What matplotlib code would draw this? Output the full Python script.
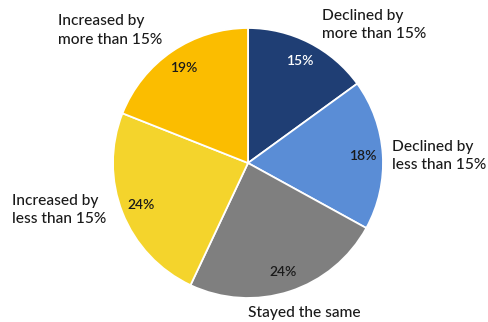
import matplotlib
matplotlib.use("Agg")
import matplotlib.pyplot as plt

# slices go clockwise from 12 o'clock
categories = ["Declined by\nmore than 15%", "Declined by\nless than 15%", "Stayed the same",
              "Increased by\nless than 15%", "Increased by\nmore than 15%"]
shares = [15, 18, 24, 24, 19]
colors = ["#1f3e74", "#5a8dd6", "#7f7f7f", "#f4d42c", "#fbbd00"]
pct_colors = ["white", "#1a1a1a", "#1a1a1a", "#1a1a1a", "#1a1a1a"]

# label placement (data units, pie radius = 1)
label_pos = [(0.55, 1.02), (1.07, 0.05), (0.42, -1.11), (-1.75, -0.35), (-1.41, 0.98)]
label_ha = ["left", "left", "center", "left", "left"]

plt.rcParams['font.family'] = ['Lato', 'DejaVu Sans']

fig = plt.figure(figsize=(4.88, 3.22), dpi=100)
ax = fig.add_axes([0, 0, 1, 1])
R = 135.0
cx, cy = 248, 322 - 163

wedges, texts, autotexts = ax.pie(
    shares, colors=colors, startangle=90, counterclock=False,
    autopct=lambda p: f"{p:.0f}%", pctdistance=0.85,
    wedgeprops=dict(edgecolor="white", linewidth=1.3),
    textprops=dict(fontsize=10, fontweight="semibold"),
)
for t, c in zip(autotexts, pct_colors):
    t.set_color(c)

for lab, (x, y), ha in zip(categories, label_pos, label_ha):
    ax.text(x, y, lab, ha=ha, va="center", fontsize=11.2, color="#1a1a1a",
            linespacing=1.4, fontweight="medium")

ax.set_xlim(-cx / R, (488 - cx) / R)
ax.set_ylim(-cy / R, (322 - cy) / R)
ax.axis("off")

fig.savefig("out.png", dpi=100)
